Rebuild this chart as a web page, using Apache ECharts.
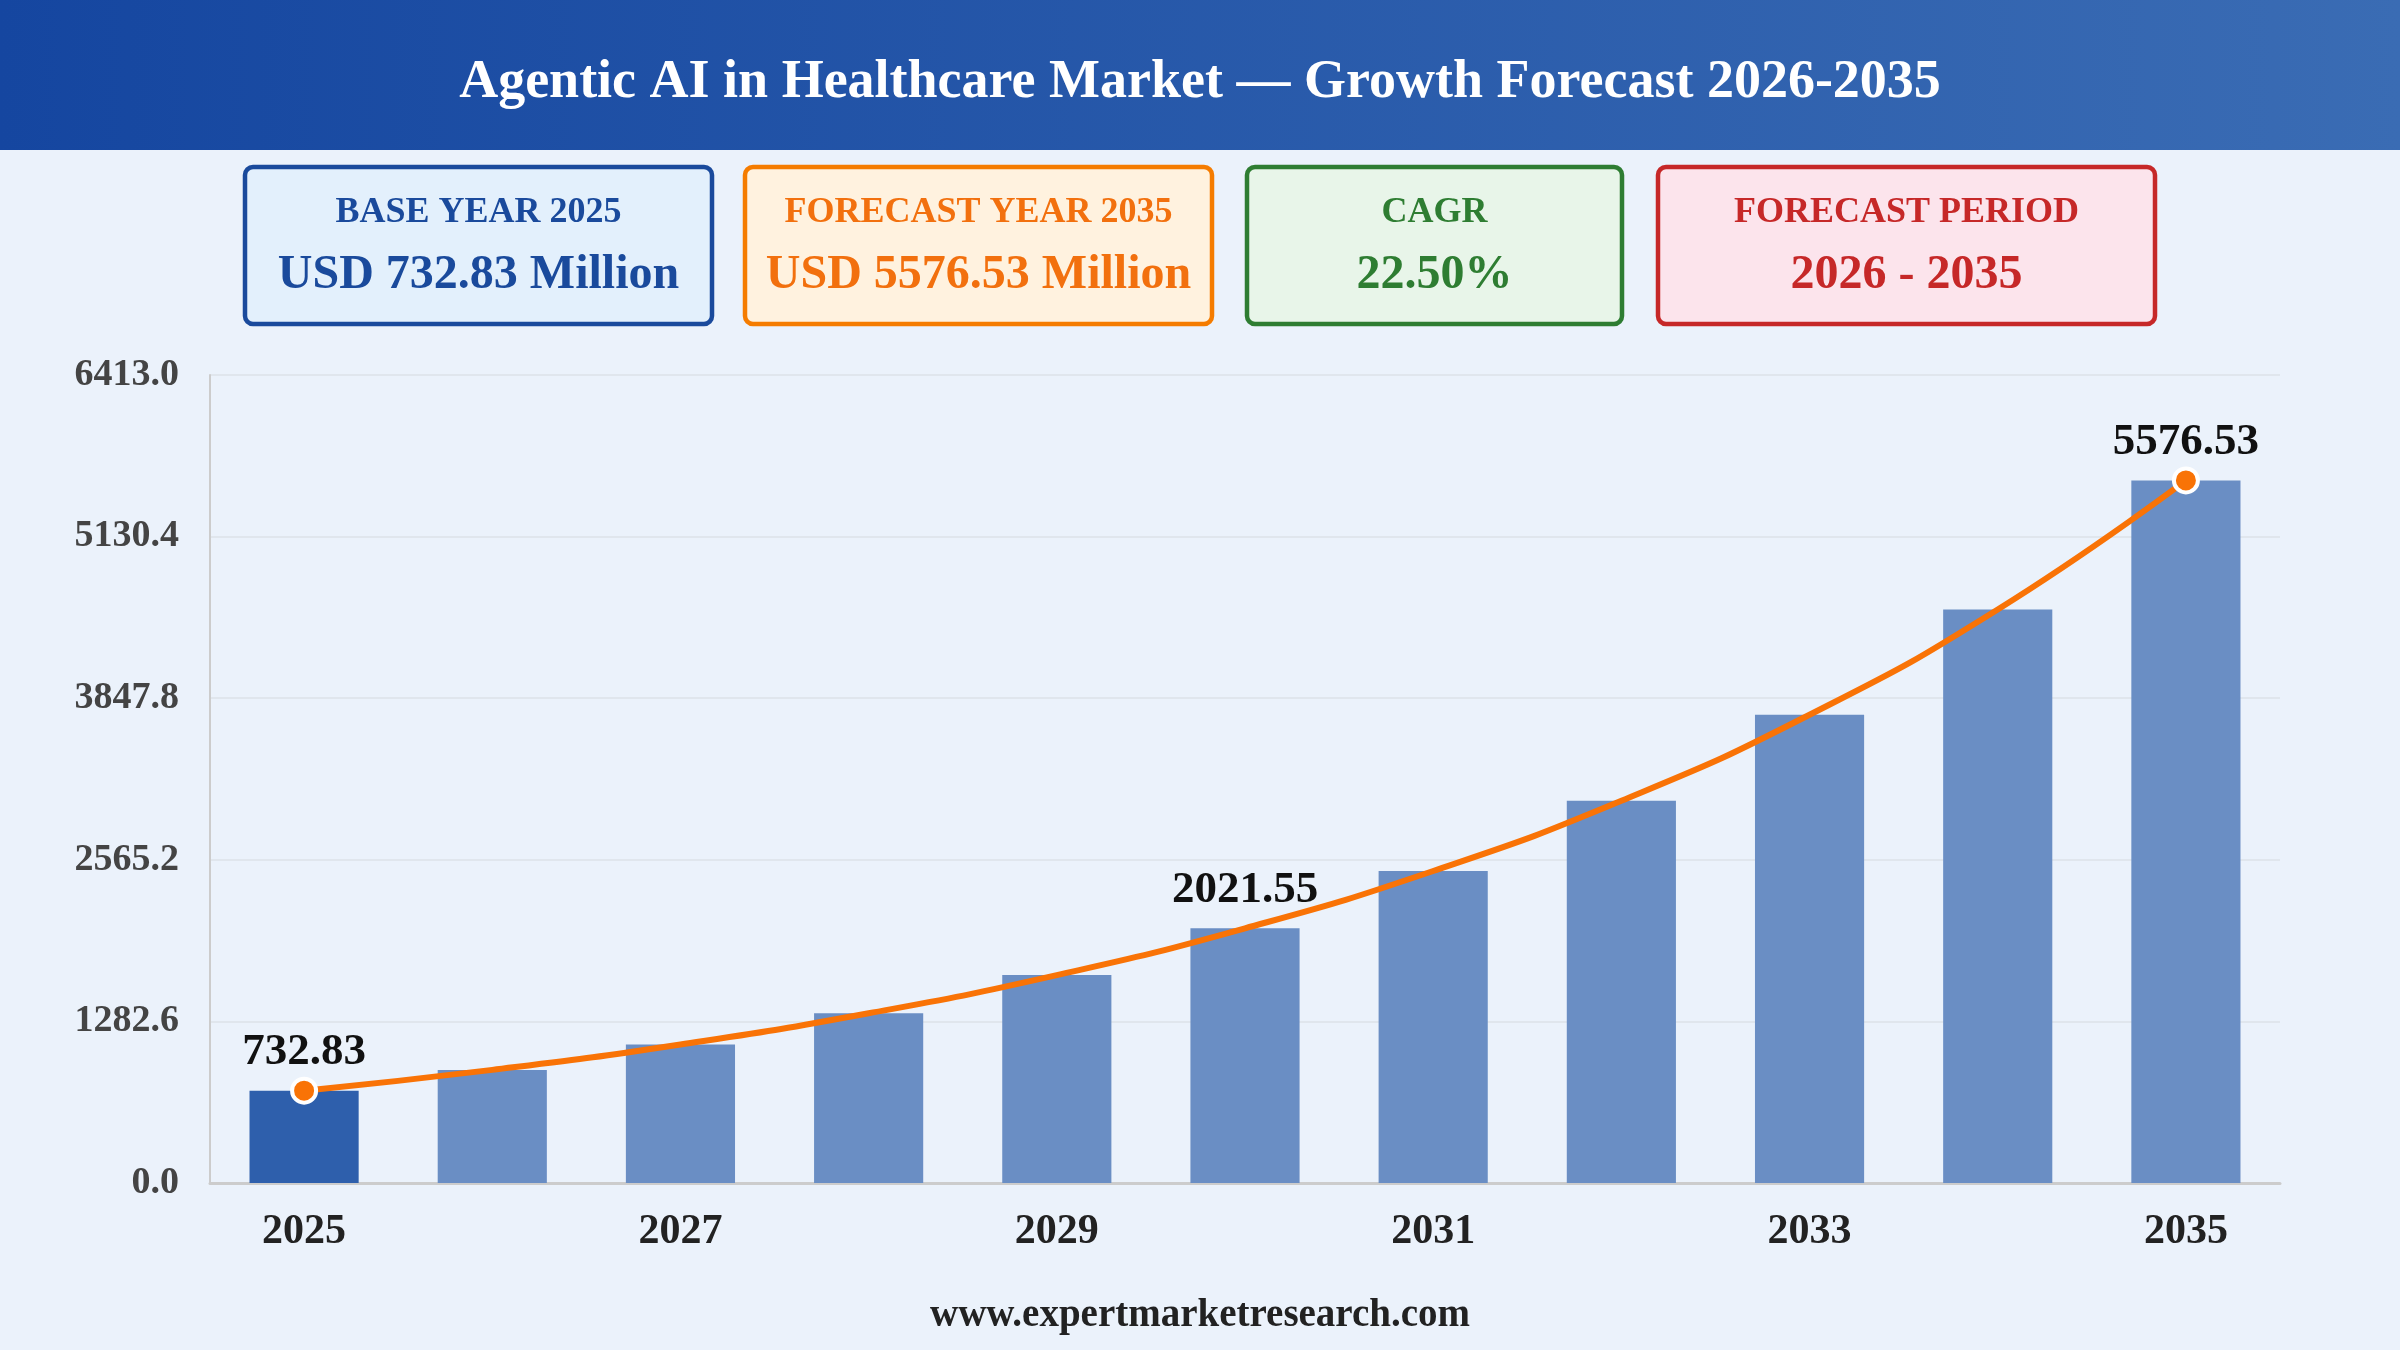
<!DOCTYPE html>
<html>
<head>
<meta charset="utf-8">
<script src="https://cdn.jsdelivr.net/npm/echarts@6/dist/echarts.min.js"></script>
<style>
html,body{margin:0;padding:0;background:#ebf2fb;}
#chart{width:2400px;height:1350px;}
</style>
</head>
<body>
<div id="chart"></div>
<script>
const titleText = 'Agentic AI in Healthcare Market \u2014 Growth Forecast 2026-2035';
const years = ['2025','2026','2027','2028','2029','2030','2031','2032','2033','2034','2035'];
const marketValues = [732.83, 897.7, 1099.7, 1347.1, 1650.2, 2021.55, 2476.4, 3033.6, 3716.2, 4552.3, 5576.53];
const labeledYears = ['2025','2030','2035'];
const markerYears = ['2025','2035'];
const baseYear = '2025';
const yMax = 6413.0;
const yInterval = 1282.6;
const cardLabels = ['BASE YEAR 2025','FORECAST YEAR 2035','CAGR','FORECAST PERIOD'];
const cardValues = ['USD 732.83 Million','USD 5576.53 Million','22.50%','2026 - 2035'];
const footerText = 'www.expertmarketresearch.com';

const FONT = '"Liberation Serif","Times New Roman",serif';
const cardStyles = [
  {x:245, w:467, fill:'#e3f0fc', stroke:'#1a4a9c', color:'#1a4a9c'},
  {x:745, w:467, fill:'#fff2df', stroke:'#f57c00', color:'#f2700e'},
  {x:1247, w:375, fill:'#e8f5e9', stroke:'#2e7d32', color:'#2e7d32'},
  {x:1658, w:497, fill:'#fce4ec', stroke:'#c62828', color:'#c62828'}
];
const cardY = 167, cardH = 157;

const graphics = [
  {type:'rect', left:0, top:0, z:0, shape:{x:0,y:0,width:2400,height:150},
   style:{fill:new echarts.graphic.LinearGradient(0,0,1,0,[{offset:0,color:'#1546a0'},{offset:1,color:'#3a6cb4'}])}},
  {type:'text', z:1, x:1200, y:83, style:{text:titleText, fill:'#ffffff', font:'bold 54px '+FONT, textAlign:'center', textVerticalAlign:'middle'}},
  {type:'text', z:1, x:1200, y:1316, style:{text:footerText, fill:'#222222', font:'bold 39px '+FONT, textAlign:'center', textVerticalAlign:'middle'}}
];
cardLabels.forEach((lab, i) => {
  const s = cardStyles[i];
  graphics.push({type:'rect', z:1, shape:{x:s.x, y:cardY, width:s.w, height:cardH, r:8},
    style:{fill:s.fill, stroke:s.stroke, lineWidth:4.5}});
  graphics.push({type:'text', z:2, x:s.x + s.w/2, y:213,
    style:{text:lab, fill:s.color, font:'bold 36px '+FONT, textAlign:'center', textVerticalAlign:'middle'}});
  graphics.push({type:'text', z:2, x:s.x + s.w/2, y:276,
    style:{text:cardValues[i], fill:s.color, font:'bold 48px '+FONT, textAlign:'center', textVerticalAlign:'middle'}});
});

const barData = marketValues.map((v, i) => ({
  value: v,
  itemStyle: {color: years[i] === baseYear ? '#2e5fac' : '#6a8ec4'}
}));
const lineData = marketValues.map((v, i) => {
  const hasMarker = markerYears.includes(years[i]);
  return {
    value: v,
    symbolSize: hasMarker ? 24 : 0,
    label: {show: labeledYears.includes(years[i]), distance: hasMarker ? 2 : 15}
  };
});

const chart = echarts.init(document.getElementById('chart'));
chart.setOption({
  backgroundColor:'#ebf2fb',
  animation:false,
  graphic: graphics,
  grid:{left:210, right:120, top:375, bottom:167, containLabel:false},
  xAxis:{
    type:'category', data:years,
    axisLine:{show:true, lineStyle:{color:'#cccccc', width:3}},
    axisTick:{show:false},
    axisLabel:{interval:1, fontSize:42, fontWeight:'bold', color:'#222222', fontFamily:FONT, margin:28},
    splitLine:{show:false}
  },
  yAxis:{
    type:'value', min:0, max:yMax, interval:yInterval,
    axisLine:{show:true, lineStyle:{color:'#cccccc', width:2}},
    axisTick:{show:false},
    axisLabel:{fontSize:38, fontWeight:'bold', color:'#444444', fontFamily:FONT, margin:31,
      formatter: v => Number(v).toFixed(1)},
    splitLine:{show:true, lineStyle:{color:'#dde2e8', width:1.5}}
  },
  series:[
    {type:'bar', data:barData, barWidth:'58%', z:2},
    {type:'line', data:lineData, smooth:true, z:3, symbol:'circle', showSymbol:true,
      lineStyle:{color:'#f97306', width:6},
      itemStyle:{color:'#f97306', borderColor:'#ffffff', borderWidth:4},
      label:{position:'top', fontSize:45, fontWeight:'bold', color:'#111111', fontFamily:FONT,
        formatter: p => Number(p.value).toFixed(2)}
    }
  ]
});
</script>
</body>
</html>
